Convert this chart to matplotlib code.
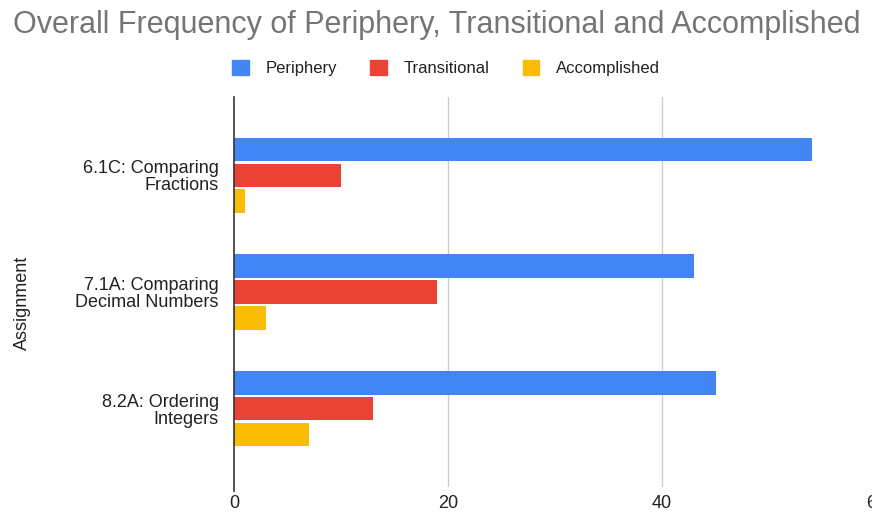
import matplotlib
matplotlib.use('Agg')
from matplotlib import pyplot as plt
from matplotlib.patches import Patch
import numpy as np

plt.rcParams['font.family'] = ['Liberation Sans', 'DejaVu Sans']

# data
assignments = ['6.1C: Comparing\nFractions', '7.1A: Comparing\nDecimal Numbers', '8.2A: Ordering\nIntegers']
series_names = ['Periphery', 'Transitional', 'Accomplished']
periphery = [54, 43, 45]
transitional = [10, 19, 13]
accomplished = [1, 3, 7]
x_ticks = [0, 20, 40, 60]

colors = ['#4285F4', '#EA4335', '#FBBC04']

fig = plt.figure(figsize=(8.72, 5.14), dpi=100)
ax = fig.add_axes([234 / 872, 1 - 487 / 514, (876 - 234) / 872, (487 - 97) / 514])

pos = np.arange(len(assignments))
offsets = [-0.222, 0, 0.222]
for vals, off, c in zip([periphery, transitional, accomplished], offsets, colors):
    ax.barh(pos + off, vals, height=0.2, color=c, zorder=3)

ax.set_ylim(len(assignments) - 1 + 0.67, -0.67)
ax.set_xlim(0, 60)
ax.set_xticks(x_ticks)
ax.set_xticklabels([str(t) for t in x_ticks], fontsize=13, color='#222222')
ax.set_yticks(pos)
ax.set_yticklabels(assignments, fontsize=13, color='#222222', ha='right', linespacing=1.0)
ax.tick_params(axis='both', length=0)
ax.tick_params(axis='y', pad=11)
ax.tick_params(axis='x', pad=6)
for s in ax.spines.values():
    s.set_visible(False)

for t in x_ticks[1:]:
    ax.axvline(t, color='#cccccc', lw=1, zorder=1)
ax.plot([0, 0], [-0.67, 2.7], color='#333333', lw=1.2, zorder=4, clip_on=False)

fig.text(22 / 872, 1 - 303 / 514, 'Assignment', rotation=90, ha='center', va='center',
         fontsize=13, color='#222222')

fig.text(437 / 872, 1 - 25 / 514, 'Overall Frequency of Periphery, Transitional and Accomplished',
         ha='center', va='center', fontsize=22, color='#757575')

handles = [Patch(facecolor=c, edgecolor=c) for c in colors]
fig.legend(handles, series_names, loc='center', bbox_to_anchor=(446 / 872, 1 - 68 / 514),
           ncol=3, frameon=False, fontsize=12, handlelength=1.0, handleheight=1.0,
           columnspacing=2.0, handletextpad=1.0, labelcolor='#222222')

fig.savefig('out.png', dpi=100)
